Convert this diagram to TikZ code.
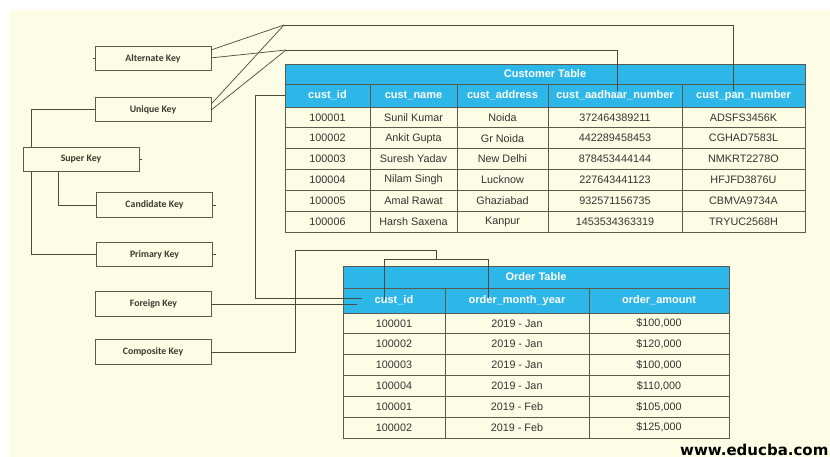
\documentclass[tikz,border=0pt]{standalone}
\usepackage{fontspec}
\setmainfont{Liberation Sans}
\newfontfamily\keyfont{Carlito}
\newfontfamily\wmfont{DejaVu Sans}
\definecolor{cream}{HTML}{FDFCE4}
\definecolor{hdr}{HTML}{2DB7E8}
\definecolor{gridc}{HTML}{5A5A4E}
\definecolor{connc}{HTML}{4A4A3E}
\definecolor{celltext}{HTML}{333333}
\definecolor{keytext}{HTML}{3A3A30}
\begin{document}
\begin{tikzpicture}[x=1pt,y=-1pt,
  keybox/.style={draw=gridc, line width=0.8pt, fill=cream, minimum width=116pt, minimum height=24.5pt, inner sep=0pt, font=\keyfont\bfseries\fontsize{9.8}{12}\selectfont, text=keytext},
  conn/.style={draw=connc, line width=0.7pt},
  cell/.style={inner sep=0pt, font=\fontsize{10.8}{13}\selectfont, text=celltext},
  hcell/.style={inner sep=0pt, font=\bfseries\fontsize{11}{13}\selectfont, text=white},
  gridl/.style={draw=gridc, line width=0.8pt}]
\useasboundingbox (0,0) rectangle (830,457);
\fill[white] (0,0) rectangle (830,457);
\fill[cream] (9,10) rectangle (830,457);

% key boxes
\node[keybox] (ak) at (153,58.5) {Alternate Key};
\node[keybox] (uk) at (153,109.5) {Unique Key};
\node[keybox] (sk) at (81,159.5) {Super Key};
\node[keybox] (ck) at (154.5,205) {Candidate Key};
\node[keybox] (pk) at (154.5,254.5) {Primary Key};
\node[keybox] (fk) at (153.5,304) {Foreign Key};
\node[keybox] (cpk) at (153,352) {Composite Key};

% customer table
\fill[hdr] (285,64) rectangle (805,107);
\draw[gridl] (285,84) -- (805,84);
\foreach \k in {0,...,5} \draw[gridl] (285,{107+20.833*\k}) -- (805,{107+20.833*\k});
\foreach \x in {370,457,548,682} \draw[gridl] (\x,84) -- (\x,232);
\draw[gridl] (285,64) rectangle (805,232);
\node[hcell] (ctitle) at (545,74) {Customer Table};
\node[hcell, minimum width=85pt, minimum height=23pt] (ch1) at (327.5,95.5) {cust\_id};
\node[hcell] (ch2) at (413.5,95.5) {cust\_name};
\node[hcell] (ch3) at (502.5,95.5) {cust\_address};
\node[hcell] (ch4) at (615,95.5) {cust\_aadhaar\_number};
\node[hcell] (ch5) at (743.5,95.5) {cust\_pan\_number};
\foreach \r/\a/\b/\c/\d/\e in {
  1/100001/Sunil Kumar/Noida/372464389211/ADSFS3456K,
  2/100002/Ankit Gupta/Gr Noida/442289458453/CGHAD7583L,
  3/100003/Suresh Yadav/New Delhi/878453444144/NMKRT2278O,
  4/100004/Nilam Singh/Lucknow/227643441123/HFJFD3876U,
  5/100005/Amal Rawat/Ghaziabad/932571156735/CBMVA9734A,
  6/100006/Harsh Saxena/Kanpur/1453534363319/TRYUC2568H}{
  \node[cell] (c-\r-1) at (327.5,{107+20.833*(\r-0.5)}) {\a};
  \node[cell] (c-\r-2) at (413.5,{107+20.833*(\r-0.5)}) {\b};
  \node[cell] (c-\r-3) at (502.5,{107+20.833*(\r-0.5)}) {\c};
  \node[cell] (c-\r-4) at (615,{107+20.833*(\r-0.5)}) {\d};
  \node[cell] (c-\r-5) at (743.5,{107+20.833*(\r-0.5)}) {\e};
}

% order table
\fill[hdr] (343,266) rectangle (729,313);
\draw[gridl] (343,288) -- (729,288);
\foreach \k in {0,...,5} \draw[gridl] (343,{313+20.833*\k}) -- (729,{313+20.833*\k});
\foreach \x in {445,589} \draw[gridl] (\x,288) -- (\x,438);
\draw[gridl] (343,266) rectangle (729,438);
\node[hcell] (otitle) at (536,277) {Order Table};
\node[hcell] (oh1) at (394,300.5) {cust\_id};
\node[hcell] (oh2) at (517,300.5) {order\_month\_year};
\node[hcell] (oh3) at (659,300.5) {order\_amount};
\foreach \r/\a/\b/\c in {
  1/100001/Jan/100, 2/100002/Jan/120, 3/100003/Jan/100,
  4/100004/Jan/110, 5/100001/Feb/105, 6/100002/Feb/125}{
  \node[cell] (o-\r-1) at (394,{313+20.833*(\r-0.5)}) {\a};
  \node[cell] (o-\r-2) at (517,{313+20.833*(\r-0.5)}) {2019 - \b};
  \node[cell] (o-\r-3) at (659,{313+20.833*(\r-0.5)}) {\$\c,000};
}

% super key tree
\draw[conn] (uk.west) -| ([xshift=9pt]sk.north west);
\draw[conn] ([xshift=9pt]sk.south west) |- (pk.west);
\draw[conn] ([xshift=36pt]sk.south west) |- (ck.west);
% small stubs
\draw[conn] (ak.west) -- ++(-2,0);
\draw[conn] (sk.east) -- ++(3,0);
\draw[conn] (ck.east) -- ++(3,0);
\draw[conn] (pk.east) -- ++(3,0);

% alternate / unique key lines
\coordinate (a1) at (284,25);
\coordinate (a2) at (286,50);
\coordinate (pan) at (733,91);
\coordinate (aad) at (617,91);
\draw[conn] ([yshift=-4pt]ak.north east) -- (a1);
\draw[conn] ([yshift=-12pt]ak.north east) -- (a2);
\draw[conn] ([yshift=-7pt]uk.north east) -- (a1);
\draw[conn] ([yshift=-13pt]uk.north east) -- (a2);
\draw[conn] (a1) -| (pan);
\draw[conn] (a2) -| (aad);

% foreign key
\coordinate (fkc) at (362,298);
\coordinate (fkd) at (357,304);
\draw[conn] (ch1.west) -- ++(-29,0) |- (fkc);
\draw[conn] (fk.east) -- (fkd);

% composite key
\coordinate (cc) at (295,250);
\coordinate (cj) at (436,250);
\coordinate (cbl) at (384,259);
\coordinate (cbr) at (488,259);
\coordinate (ccid) at (384,300);
\coordinate (cmy) at (488,298);
\draw[conn] (cpk.east) -| (cc) -- (cj) -- ++(0,9);
\draw[conn] (ccid) -- (cbl) -- (cbr) -- (cmy);

% watermark
\node[anchor=base west, inner sep=0pt, font=\wmfont\bfseries\fontsize{15}{18}\selectfont, text=black] (wm) at (680,455) {www.educba.com};
\end{tikzpicture}
\end{document}
